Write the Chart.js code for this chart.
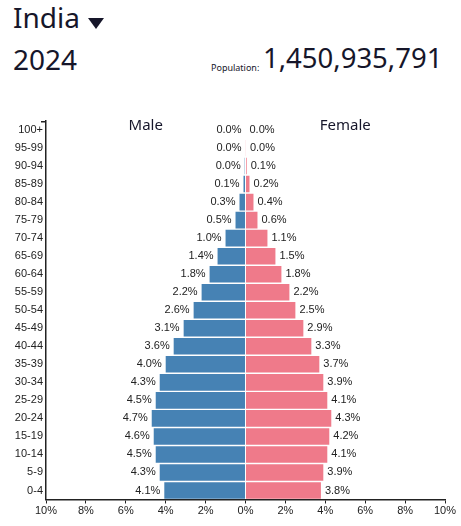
<!DOCTYPE html>
<html>
<head>
<meta charset="utf-8">
<script src="https://cdn.jsdelivr.net/npm/chart.js@4.4.1/dist/chart.umd.min.js"></script>
<style>
    html, body { margin: 0; padding: 0; background: #fff; }
    #wrap { position: relative; width: 461px; height: 526px; overflow: hidden; font-family: "Noto Sans", sans-serif; color: #16162a; }
    #country { position: absolute; left: 13px; top: -2px; font-size: 28px; }
    #arrow { position: absolute; left: 88px; top: 18px; width: 0; height: 0; border-left: 8px solid transparent; border-right: 8px solid transparent; border-top: 11px solid #16162a; }
    #year { position: absolute; left: 13px; top: 40px; font-size: 28px; }
    #popLabel { position: absolute; left: 211px; top: 61px; font-size: 9px; }
    #popValue { position: absolute; left: 263px; top: 39px; font-size: 27.5px; }
    canvas { position: absolute; left: 0; top: 0; }
</style>
</head>
<body>
<div id="wrap">
    <div id="country">India</div>
    <div id="arrow"></div>
    <div id="year">2024</div>
    <div id="popLabel">Population:</div>
    <div id="popValue">1,450,935,791</div>
    <canvas id="pyramid" width="461" height="526"></canvas>
</div>
<script>
// age groups, bottom to top
const ageGroups = ['0-4', '5-9', '10-14', '15-19', '20-24', '25-29', '30-34', '35-39', '40-44', '45-49',
    '50-54', '55-59', '60-64', '65-69', '70-74', '75-79', '80-84', '85-89', '90-94', '95-99', '100+'];

// share of total population (%)
const malePct = [4.07, 4.3, 4.5, 4.6, 4.7, 4.5, 4.3, 4.0, 3.6, 3.1,
    2.6, 2.2, 1.8, 1.4, 1.0, 0.5, 0.3, 0.1, 0.04, 0.0, 0.0];
const femalePct = [3.78, 3.9, 4.1, 4.2, 4.3, 4.1, 3.9, 3.7, 3.3, 2.9,
    2.5, 2.2, 1.8, 1.5, 1.1, 0.6, 0.4, 0.2, 0.06, 0.02, 0.0];

const xTicks = [-10, -8, -6, -4, -2, 0, 2, 4, 6, 8, 10];

const labelFont = '11px "Liberation Sans", Arial, sans-serif';

// value labels beside each bar + Male/Female headings
const barLabels = {
    id: 'barLabels',
    afterDatasetsDraw(chart) {
        const ctx = chart.ctx;
        const xs = chart.scales.x;
        const ys = chart.scales.y;
        const area = chart.chartArea;
        ctx.save();
        ctx.font = labelFont;
        ctx.fillStyle = '#222';
        ctx.textBaseline = 'middle';
        ageGroups.forEach((g, i) => {
            const y = ys.getPixelForValue(i);
            ctx.textAlign = 'right';
            ctx.fillText(malePct[i].toFixed(1) + '%', xs.getPixelForValue(-malePct[i]) - 4, y);
            ctx.textAlign = 'left';
            ctx.fillText(femalePct[i].toFixed(1) + '%', xs.getPixelForValue(femalePct[i]) + 4, y);
        });
        const top = ys.getPixelForValue(ageGroups.length - 1);
        ctx.font = '15px "Noto Sans", sans-serif';
        ctx.fillStyle = '#16162a';
        ctx.textAlign = 'center';
        ctx.fillText('Male', xs.getPixelForValue(-5), top - 4);
        ctx.fillText('Female', xs.getPixelForValue(5), top - 4);
        // outer tick at the top of the age axis
        ctx.strokeStyle = '#222';
        ctx.lineWidth = 1.5;
        ctx.beginPath();
        ctx.moveTo(area.left - 5, area.top + 0.75);
        ctx.lineTo(area.left, area.top + 0.75);
        ctx.stroke();
        ctx.restore();
    }
};

new Chart(document.getElementById('pyramid'), {
    type: 'bar',
    data: {
        labels: ageGroups,
        datasets: [
            {
                label: 'Male',
                data: malePct.map(v => -v),
                backgroundColor: '#4682b4',
                barPercentage: 0.92,
                categoryPercentage: 1
            },
            {
                label: 'Female',
                data: femalePct,
                backgroundColor: '#ef7a8a',
                barPercentage: 0.92,
                categoryPercentage: 1
            }
        ]
    },
    options: {
        indexAxis: 'y',
        responsive: false,
        animation: false,
        layout: { padding: { top: 121, right: 16, left: 0, bottom: 0 } },
        plugins: {
            legend: { display: false },
            tooltip: { enabled: false }
        },
        scales: {
            x: {
                stacked: true,
                min: -10,
                max: 10,
                afterBuildTicks: s => { s.ticks = xTicks.map(v => ({ value: v })); },
                afterFit: s => { s.height = 26.5; },
                grid: { display: true, drawOnChartArea: false, drawTicks: true, tickLength: 4, color: '#222' },
                border: { color: '#222', width: 1.5 },
                ticks: {
                    padding: 1,
                    color: '#222',
                    font: { family: '"Liberation Sans", Arial, sans-serif', size: 11 },
                    callback: v => Math.abs(v) + '%'
                }
            },
            y: {
                stacked: true,
                reverse: true,
                afterFit: s => { s.width = 46; },
                grid: { display: false, drawTicks: false },
                border: { color: '#222', width: 1.5 },
                ticks: {
                    padding: 3,
                    color: '#222',
                    font: { family: '"Liberation Sans", Arial, sans-serif', size: 11 }
                }
            }
        }
    },
    plugins: [barLabels]
});
</script>
</body>
</html>
